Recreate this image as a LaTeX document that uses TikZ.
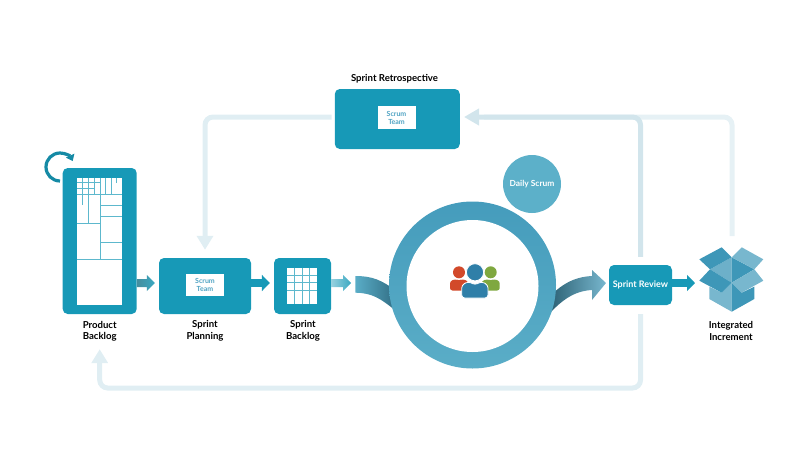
\documentclass[tikz,border=0pt]{standalone}
\usepackage{fontspec}
\setmainfont{Lato}
\usetikzlibrary{arrows.meta,calc}
\definecolor{teal}{HTML}{1799B7}
\definecolor{ringtop}{HTML}{459CBC}
\definecolor{ringlow}{HTML}{5AADC7}
\definecolor{daily}{HTML}{5CB0C9}
\definecolor{padtext}{HTML}{4FA3C3}
\definecolor{laneback}{HTML}{E0EEF3}
\definecolor{lanehead}{HTML}{D2E5EC}
\definecolor{lanepale}{HTML}{E6F1F5}
\definecolor{boxdark}{HTML}{3E97B8}
\definecolor{boxlight}{HTML}{78B7CE}
\definecolor{boxmid}{HTML}{6DB0C9}
\definecolor{teamred}{HTML}{D2492A}
\definecolor{teamgreen}{HTML}{7FA83F}
\definecolor{teamblue}{HTML}{2F7FA8}
\tikzset{
	stage/.style={fill=teal,rounded corners=5pt,inner sep=0pt},
	teampad/.style={fill=white,text=padtext,inner sep=0pt,minimum width=38pt,minimum height=22.5pt,align=center,font=\fontsize{7}{8}\selectfont\bfseries},
	caption/.style={align=center,text=black,font=\fontsize{9.6}{11.4}\selectfont\bfseries},
	whitetext/.style={text=white,font=\fontsize{9}{11}\selectfont\bfseries},
	flowarrow/.style={draw=teal,line width=8pt,-{Triangle[width=16pt,length=8pt]}},
	gradarrow/.style={left color=#1,right color=teal!85!white,shading angle=90,
		to path={+(0,-4) -- ($(\tikztotarget)+(-8,-4)$) -- ($(\tikztotarget)+(-8,-8)$) -- (\tikztotarget) -- ($(\tikztotarget)+(-8,8)$) -- ($(\tikztotarget)+(-8,4)$) -- ($(\tikztostart)+(0,4)$) -- cycle}},
	feedback/.style={draw=#1,line width=5pt,rounded corners=8pt},
	gridline/.style={draw=teal!70!white,line width=0.7pt},
}
\begin{document}
\begin{tikzpicture}[x=1pt,y=-1pt]
	\useasboundingbox (0,0) rectangle (800,450);
	% stages
	\node[stage,minimum width=74pt,minimum height=146pt] (pb) at (99.7,241) {};
	\node[stage,minimum width=92pt,minimum height=56pt] (sp) at (205,286) {};
	\node[stage,minimum width=57pt,minimum height=56pt] (sb) at (302.5,286) {};
	\node[stage,minimum width=125pt,minimum height=60pt] (retro) at (397.3,119) {};
	\node[teampad] (sppad) at (205,285) {Scrum\\Team};
	\node[teampad] (retropad) at (396.5,117.5) {Scrum\\Team};
	\coordinate (lane) at (0,388);
	\coordinate (boxtop) at (732,236);
	\coordinate (boxin) at (695,283);
	\node[stage,minimum width=63pt,minimum height=40pt,whitetext] (sr) at (640.5,285) {Sprint Review};
	% captions
	\node[caption] (pbcap) at (99.7,331) {Product\\Backlog};
	\node[caption] (spcap) at (205,331) {Sprint\\Planning};
	\node[caption] (sbcap) at (303,331) {Sprint\\Backlog};
	\node[caption] (retrocap) at (394.5,79) {Sprint Retrospective};
	\node[caption] (inccap) at (731,331) {Integrated\\Increment};
	% backlog rotation
	\draw[line width=3.2pt,draw=teal!90!black,-{Triangle[width=9pt,length=6pt]}] (60,181) arc[start angle=90,end angle=335,radius=14];
	% product backlog items
	\node[fill=white,inner sep=0pt,minimum width=45.3pt,minimum height=127.3pt] (pbpad) at (99.3,241.3) {};
	\foreach \x/\yend in {82.7/205,88.3/223.3,94/194,100/259.3,105.7/194,111/194,116.7/183}
		\draw[gridline] (\x,177.7) -- (\x,\yend);
	\foreach \y/\xa/\xb in {182.7/76.7/100,188.3/76.7/94,194/76.7/122,205/100/122,216/100/122,223.3/76.7/100,242.7/100/122,259.3/76.7/122}
		\draw[gridline] (\xa,\y) -- (\xb,\y);
	% sprint backlog items
	\node[fill=white,inner sep=0pt,minimum width=30pt,minimum height=36.5pt] (sbpad) at (302,286) {};
	\foreach \x in {294.5,302,309.5}
		\draw[gridline,line width=1pt] (\x,267.7) -- (\x,304.3);
	\foreach \y in {275.7,282.3,290}
		\draw[gridline,line width=1pt] (287,\y) -- (317,\y);
	% feedback lanes
	\draw[feedback=lanepale,shorten >=24pt] (boxtop) |- ([yshift=2pt]retro.east);
	\draw[feedback=lanehead,shorten <=8pt,shorten >=4pt,-{Triangle[width=16pt,length=15pt]}] (sr.north) |- ([yshift=2pt]retro.east);
	\draw[feedback=laneback,shorten <=3pt,shorten >=8pt,-{Triangle[width=16pt,length=14pt]}] ([yshift=2pt]retro.west) -| (sp.north);
	\draw[feedback=laneback,shorten <=9pt,shorten >=35pt,-{Triangle[width=16pt,length=14pt]}] (sr.south) -- (sr.south |- lane) -- (pb.south |- lane) -- (pb.south);
	% flow
	\shade[gradarrow=teal!55!gray] ([yshift=3pt]sp.west -| pb.east) to ([xshift=-4pt,yshift=3pt]sp.west);
	\draw[flowarrow] ([yshift=3pt]sp.east) -- ([xshift=-4pt,yshift=3pt]sb.west);
	\shade[gradarrow=teal!45!white] ([yshift=3pt]sb.east) to ([xshift=20pt,yshift=3pt]sb.east);
	\draw[flowarrow] ([yshift=2pt]sr.east) -- (boxin);
	% swooshes into and out of the sprint
	\shade[left color=ringlow,right color=ringtop!70!black] (355.3,276) .. controls (372,276) and (382,280) .. (396,291) -- (396,311) .. controls (380,298) and (372,293) .. (355.3,292.7) -- cycle;
	\shade[left color=ringtop!60!black,right color=boxlight] (548,298) .. controls (560,286) and (572,277) .. (592,276) -- (592,270) -- (606,283) -- (592,300) -- (592,290) .. controls (574,291) and (562,300) .. (548,315) -- cycle;
	% sprint ring
	\node[circle,minimum size=167pt,inner sep=0pt,top color=ringtop,bottom color=ringlow] (ring) at (472.5,285) {};
	\node[circle,minimum size=132pt,inner sep=0pt,fill=white] (core) at (472.5,286) {};
	\node[circle,minimum size=58pt,inner sep=0pt,fill=daily,text=white,font=\fontsize{8.4}{10}\selectfont\bfseries] (ds) at (532,184) {Daily Scrum};
	% team
	\foreach \px/\pc in {459/teamred,490.7/teamgreen} {
		\fill[\pc] (\px,272.3) circle (6);
		\fill[\pc,rounded corners=2.5pt] (\px-9,290.5) -- (\px-9,281) -- (\px-3,279) -- (\px,281) -- (\px+3,279) -- (\px+9,281) -- (\px+9,290.5) -- cycle;
	}
	\filldraw[fill=teamblue,draw=white,line width=0.8pt] (475,272.3) circle (8.6);
	\filldraw[fill=teamblue,draw=white,line width=0.8pt,rounded corners=3pt] (461.7,298) -- (461.7,285) -- (468.5,281.5) -- (475,285) -- (481.5,281.5) -- (488,285) -- (488,298) -- cycle;
	% increment box
	\fill[boxmid] (710,269.3) -- (731.7,257.3) -- (731.7,282.7) -- cycle;
	\fill[boxdark] (754.3,269.3) -- (731.7,257.3) -- (731.7,282.7) -- cycle;
	\fill[boxdark] (699.3,259.3) -- (721.7,247.3) -- (731.7,257.3) -- (710,269.3) -- cycle;
	\fill[boxlight] (763.3,259.3) -- (741.7,247.3) -- (731.7,257.3) -- (754.3,269.3) -- cycle;
	\fill[boxlight] (709.3,286.7) -- (721.7,292.7) -- (731.7,282.7) -- (731.7,311.7) -- (709.3,299) -- cycle;
	\fill[boxdark] (754.3,286.7) -- (741.7,292.7) -- (731.7,282.7) -- (731.7,311.7) -- (754.3,299) -- cycle;
	\fill[boxdark] (710,269.3) -- (731.7,282.7) -- (721.7,292.7) -- (699.3,280.7) -- cycle;
	\fill[boxlight] (754.3,269.3) -- (731.7,282.7) -- (741.7,292.7) -- (763.3,280.7) -- cycle;
\end{tikzpicture}
\end{document}
